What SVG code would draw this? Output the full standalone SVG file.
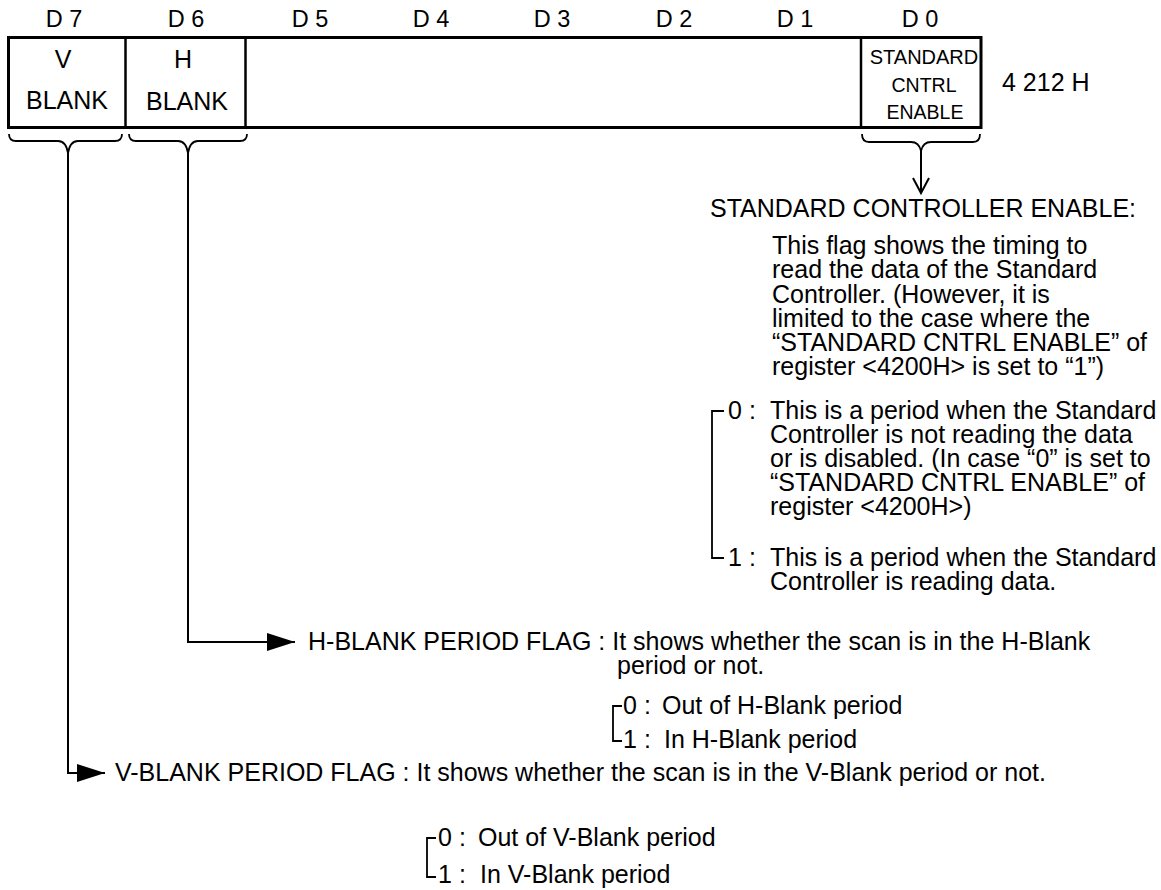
<svg xmlns="http://www.w3.org/2000/svg" width="1161" height="890" viewBox="0 0 1161 890">
<style>
text{font-family:"Liberation Sans",Arial,sans-serif;fill:#000}
.t{font-size:25px}
.c{font-size:23.5px;text-anchor:middle}
.m{font-size:25px;text-anchor:middle}
.s{font-size:19.5px;text-anchor:middle}
.ln{fill:none;stroke:#000;stroke-width:2}
.br{fill:none;stroke:#000;stroke-width:1.8}
</style>
<defs>
<marker id="fa" markerUnits="userSpaceOnUse" markerWidth="30" markerHeight="18" refX="28" refY="9" orient="auto">
<path d="M0,0 L28,9 L0,18 Z" fill="#000"/>
</marker>
</defs>
<rect width="1161" height="890" fill="#fff"/>

<g id="bit-labels">
<text class="c" x="64" y="27">D 7</text>
<text class="c" x="186" y="27">D 6</text>
<text class="c" x="310" y="27">D 5</text>
<text class="c" x="431" y="27">D 4</text>
<text class="c" x="552" y="27">D 3</text>
<text class="c" x="674" y="27">D 2</text>
<text class="c" x="795" y="27">D 1</text>
<text class="c" x="920" y="27">D 0</text>
</g>

<g id="register">
<rect x="8.5" y="37.5" width="972.5" height="90" fill="none" stroke="#000" stroke-width="3"/>
<line x1="125.5" y1="37.5" x2="125.5" y2="127.5" stroke="#000" stroke-width="2.5"/>
<line x1="245.5" y1="37.5" x2="245.5" y2="127.5" stroke="#000" stroke-width="2.5"/>
<line x1="861" y1="37.5" x2="861" y2="127.5" stroke="#000" stroke-width="2.5"/>
<text class="t" x="1002" y="91">4 212 H</text>
</g>

<g id="cell-d7">
<text class="m" x="63" y="68">V</text>
<text class="m" x="67" y="109">BLANK</text>
</g>
<g id="cell-d6">
<text class="m" x="183" y="68">H</text>
<text class="m" x="187" y="110">BLANK</text>
</g>
<g id="cell-d0">
<text class="s" x="924" y="64" style="font-size:20px">STANDARD</text>
<text class="s" x="924" y="92">CNTRL</text>
<text class="s" x="925" y="119">ENABLE</text>
</g>

<g id="connectors">
<path class="br" d="M9,134 Q9,141 16,141 L58,141 Q66,141 68,153 Q70,141 78,141 L115,141 Q122,141 122,134"/>
<path class="br" d="M129,134 Q129,141 136,141 L178,141 Q186,141 188,153 Q190,141 198,141 L240,141 Q247,141 247,134"/>
<path class="br" d="M862,134 Q862,142 869,142 L911,142 Q919,142 921,151 Q923,142 931,142 L973,142 Q980,142 980,134"/>
<path class="ln" d="M921,151 L921,192"/>
<path class="ln" d="M913,178 L921,193 L929,178"/>
<path class="ln" d="M188,153 L188,642 L295,642" marker-end="url(#fa)"/>
<path class="ln" d="M68,153 L68,773 L105,773" marker-end="url(#fa)"/>
<path class="br" d="M724,411 L712,411 L712,558 L724,558"/>
<path class="br" d="M622,706 L613,706 L613,741 L622,741"/>
<path class="br" d="M436,838 L427,838 L427,877 L436,877"/>
</g>

<g id="std-ctrl-desc">
<text class="t" x="710" y="217">STANDARD CONTROLLER ENABLE:</text>
<text class="t" x="772" y="254">This flag shows the timing to</text>
<text class="t" x="772" y="278">read the data of the Standard</text>
<text class="t" x="772" y="303">Controller. (However, it is</text>
<text class="t" x="772" y="327">limited to the case where the</text>
<text class="t" x="772" y="351">“STANDARD CNTRL ENABLE” of</text>
<text class="t" x="772" y="375">register &lt;4200H&gt; is set to “1”)</text>
<text class="t" x="728" y="419">0</text><text class="t" x="749" y="419">:</text>
<text class="t" x="770" y="419">This is a period when the Standard</text>
<text class="t" x="770" y="443">Controller is not reading the data</text>
<text class="t" x="770" y="467">or is disabled. (In case “0” is set to</text>
<text class="t" x="770" y="491">“STANDARD CNTRL ENABLE” of</text>
<text class="t" x="770" y="515">register &lt;4200H&gt;)</text>
<text class="t" x="728" y="566">1</text><text class="t" x="749" y="566">:</text>
<text class="t" x="770" y="566">This is a period when the Standard</text>
<text class="t" x="770" y="590">Controller is reading data.</text>
</g>

<g id="h-blank-desc">
<text class="t" x="308" y="650">H-BLANK PERIOD FLAG : It shows whether the scan is in the H-Blank</text>
<text class="t" x="617" y="674">period or not.</text>
<text class="t" x="623" y="714">0</text><text class="t" x="644" y="714">:</text>
<text class="t" x="662" y="714">Out of H-Blank period</text>
<text class="t" x="623" y="748">1</text><text class="t" x="644" y="748">:</text>
<text class="t" x="664" y="748">In H-Blank period</text>
</g>

<g id="v-blank-desc">
<text class="t" x="115" y="781">V-BLANK PERIOD FLAG : It shows whether the scan is in the V-Blank period or not.</text>
<text class="t" x="438" y="846">0</text><text class="t" x="459" y="846">:</text>
<text class="t" x="478" y="846">Out of V-Blank period</text>
<text class="t" x="438" y="883">1</text><text class="t" x="459" y="883">:</text>
<text class="t" x="480" y="883">In V-Blank period</text>
</g>
</svg>
